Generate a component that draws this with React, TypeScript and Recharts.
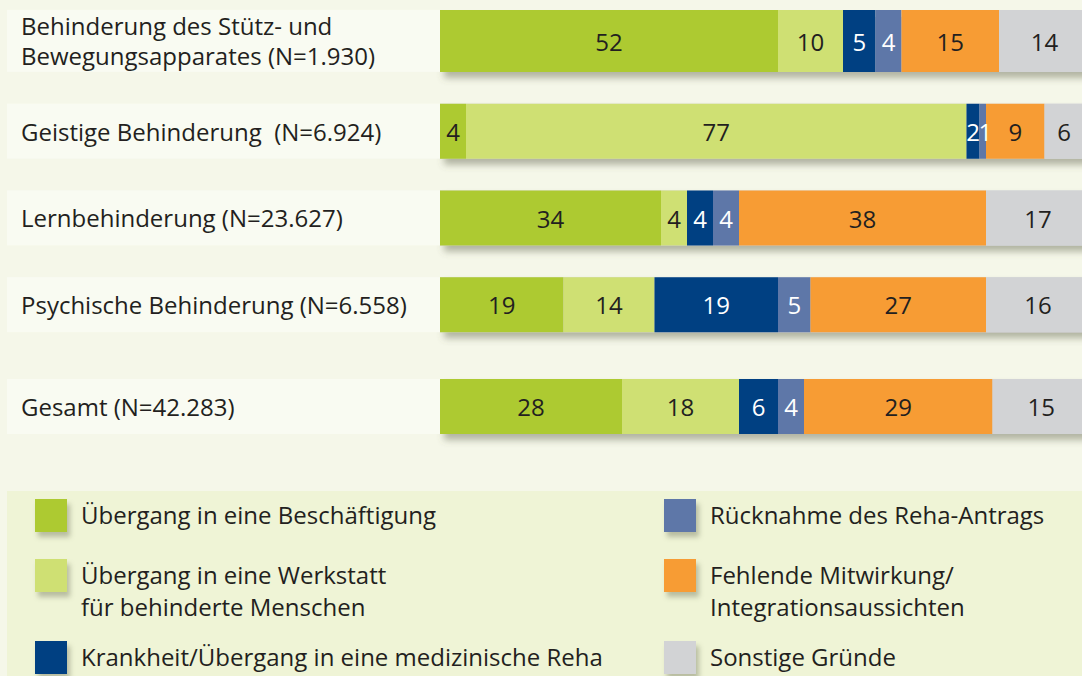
import React from "react"
import { BarChart, Bar, XAxis, YAxis, LabelList } from "recharts"

const CATEGORIES = [
  "Behinderung des Stütz- und\nBewegungsapparates (N=1.930)",
  "Geistige Behinderung  (N=6.924)",
  "Lernbehinderung (N=23.627)",
  "Psychische Behinderung (N=6.558)",
  "Gesamt (N=42.283)",
]

const BESCHAEFTIGUNG = [52, 4, 34, 19, 28]
const WERKSTATT = [10, 77, 4, 14, 18]
const KRANKHEIT = [5, 2, 4, 19, 6]
const RUECKNAHME = [4, 1, 4, 5, 4]
const MITWIRKUNG = [15, 9, 38, 27, 29]
const SONSTIGE = [14, 6, 17, 16, 15]

const SERIES = [
  { key: "beschaeftigung", values: BESCHAEFTIGUNG, label: "Übergang in eine Beschäftigung", color: "#adca31", text: "#231f20" },
  { key: "werkstatt", values: WERKSTATT, label: "Übergang in eine Werkstatt\nfür behinderte Menschen", color: "#cfe073", text: "#231f20" },
  { key: "krankheit", values: KRANKHEIT, label: "Krankheit/Übergang in eine medizinische Reha", color: "#004082", text: "#ffffff" },
  { key: "ruecknahme", values: RUECKNAHME, label: "Rücknahme des Reha-Antrags", color: "#5e77a8", text: "#ffffff" },
  { key: "mitwirkung", values: MITWIRKUNG, label: "Fehlende Mitwirkung/\nIntegrationsaussichten", color: "#f79c34", text: "#231f20" },
  { key: "sonstige", values: SONSTIGE, label: "Sonstige Gründe", color: "#d2d3d5", text: "#231f20" },
]

const data = CATEGORIES.map((name, i) => {
  const row: any = { name }
  SERIES.forEach((s) => (row[s.key] = s.values[i]))
  return row
})

const FONT = "'Open Sans', 'Noto Sans', sans-serif"
const FS = 24
const BAR = 55
const TALL_EXTRA = 7 // first row is taller because of its two-line label

const isTall = (name: any) => String(name).includes("\n")

function RowTick({ y, payload }: any) {
  const lines = String(payload.value).split("\n")
  const extra = lines.length > 1 ? TALL_EXTRA : 0
  return (
    <g>
      <rect x={7} y={y - BAR / 2 - extra} width={433} height={BAR + extra} fill="#f9fbf2" />
      {lines.map((line, i) => (
        <text
          key={i}
          x={21}
          y={y - extra / 2 + (i - (lines.length - 1) / 2) * 30}
          dominantBaseline="central"
          fontSize={FS}
          fontFamily={FONT}
          fill="#231f20"
          style={{ whiteSpace: "pre" }}
        >
          {line}
        </text>
      ))}
    </g>
  )
}

function Segment(props: any) {
  const { x, y, width, height, fill, payload } = props
  if (!width || !height) return null
  const extra = isTall(payload?.name) ? TALL_EXTRA : 0
  return <rect x={x} y={y - extra} width={width} height={height + extra} fill={fill} />
}

function ShadowBackground(props: any) {
  const { x, y, width, height } = props
  return <rect x={x} y={y} width={width} height={height} fill="#d2d3d5" filter="url(#barShadow)" />
}

// value inside a segment; very thin segments get their number pushed to the left edge
const segmentLabel = (color: string, rows: any[]) => (p: any) => {
  const { x, y, width, height, value, index } = p
  const thin = width < 10
  const extra = isTall(rows[index]?.name) ? TALL_EXTRA : 0
  return (
    <text
      x={thin ? x - 1 : x + width / 2}
      y={y + height / 2 - extra / 2}
      textAnchor={thin ? "start" : "middle"}
      dominantBaseline="central"
      fontSize={FS}
      fontFamily={FONT}
      fill={color}
    >
      {value}
    </text>
  )
}

function RowsChart({ rows, height }: { rows: any[]; height: number }) {
  return (
    <BarChart
      width={1090}
      height={height}
      data={rows}
      layout="vertical"
      margin={{ top: 0, right: 0, bottom: 0, left: 0 }}
      barSize={BAR}
    >
      <defs>
        <filter id="barShadow" x="-5%" y="-30%" width="110%" height="180%">
          <feDropShadow dx="4" dy="6" stdDeviation="3.5" floodColor="#5d604a" floodOpacity="0.45" />
        </filter>
      </defs>
      <XAxis type="number" domain={[0, 100]} allowDataOverflow hide />
      <YAxis
        type="category"
        dataKey="name"
        width={440}
        axisLine={false}
        tickLine={false}
        interval={0}
        tick={<RowTick />}
      />
      {SERIES.map((s, i) => (
        <Bar
          key={s.key}
          dataKey={s.key}
          stackId="a"
          fill={s.color}
          shape={<Segment />}
          background={i === 0 ? <ShadowBackground /> : undefined}
          isAnimationActive={false}
        >
          <LabelList dataKey={s.key} content={segmentLabel(s.text, rows)} />
        </Bar>
      ))}
    </BarChart>
  )
}

function LegendBox() {
  const col = (items: typeof SERIES, left: number) => (
    <div style={{ position: "absolute", left, top: 8 }}>
      {items.map((s, i) => (
        <div key={s.key} style={{ position: "absolute", top: [0, 60, 142][i], left: 0, display: "flex", width: 600 }}>
          <div
            style={{
              width: 32,
              height: 33,
              background: s.color,
              boxShadow: "3px 5px 5px rgba(80,85,60,0.35)",
              flexShrink: 0,
            }}
          />
          <div
            style={{
              marginLeft: 14,
              fontSize: FS,
              lineHeight: "32px",
              color: "#231f20",
              whiteSpace: "pre",
              fontFamily: FONT,
            }}
          >
            {s.label}
          </div>
        </div>
      ))}
    </div>
  )
  return (
    <div style={{ position: "absolute", left: 7, top: 491, right: 0, bottom: 0, background: "#eff4d6" }}>
      {col(SERIES.slice(0, 3), 28)}
      {col(SERIES.slice(3), 657)}
    </div>
  )
}

export default function App() {
  return (
    <div
      style={{
        position: "fixed",
        left: 0,
        top: 0,
        width: 1082,
        height: 676,
        overflow: "hidden",
        background: "#f5f7e9",
        fontFamily: FONT,
      }}
    >
      {/* the four disability groups */}
      <div style={{ position: "absolute", left: 0, top: 1 }}>
        <RowsChart rows={data.slice(0, 4)} height={347} />
      </div>
      {/* total, set a little apart */}
      <div style={{ position: "absolute", left: 0, top: 363 }}>
        <RowsChart rows={data.slice(4)} height={87} />
      </div>
      <LegendBox />
    </div>
  )
}
